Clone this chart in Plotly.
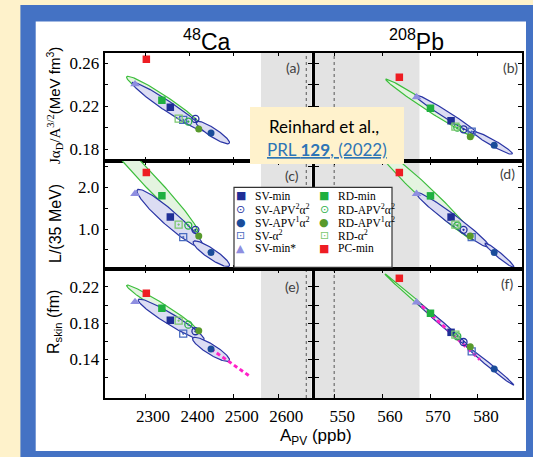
import numpy as np
import plotly.graph_objects as go

W, H = 533, 457

# ---------------- data ----------------
MODEL_LABELS = ["SV-min", "SV-APV<sup>2</sup>α<sup>2</sup>", "SV-APV<sup>1</sup>α<sup>2</sup>",
                "SV-α<sup>2</sup>", "SV-min*", "RD-min", "RD-APV<sup>2</sup>α<sup>2</sup>",
                "RD-APV<sup>1</sup>α<sup>2</sup>", "RD-α<sup>2</sup>", "PC-min"]

# A_PV (ppb)
APV_CA = [2357, 2413.5, 2448.6, 2386, 2277.5, 2338, 2397.5, 2421, 2375.7, 2303]
APV_PB = [574.4, 577.0, 583.4, 578.7, 567.2, 570.1, 575.7, 578.4, 575.3, 563.6]
# J alpha_D / A^{3/2}
AD_CA = [0.2191, 0.2082, 0.1952, 0.2073, 0.2405, 0.2256, 0.2057, 0.1989, 0.2085, 0.2637]
AD_PB = [0.2066, 0.1986, 0.1837, 0.1964, 0.2284, 0.2181, 0.2001, 0.1917, 0.2010, 0.2470]
# L / (35 MeV)
L_NORM = [1.29, 0.983, 0.437, 0.81, 1.85, 1.80, 1.087, 0.835, 1.11, 2.36]
# R_skin (fm)
RSKIN_CA = [0.1831, 0.1710, 0.1513, 0.1683, 0.2034, 0.1964, 0.1783, 0.1716, 0.1827, 0.2130]
RSKIN_PB = [0.1698, 0.1591, 0.1292, 0.1488, 0.2030, 0.1909, 0.1654, 0.1539, 0.1672, 0.2296]

# error ellipses: (family, tip1, tip2, semi-minor in px)
ELL_A = [("RD", (2258.8, 0.2475), (2425.4, 0.2017), 5.5),
         ("SV", (2271.4, 0.2420), (2432.9, 0.1973), 5.0),
         ("SV", (2414.9, 0.2057), (2489.9, 0.1856), 4.3)]
ELL_B = [("RD", (560.8, 0.2451), (579.2, 0.1917), 3.5),
         ("SV", (566.9, 0.2305), (580.1, 0.1933), 3.5),
         ("SV", (579.0, 0.1964), (587.2, 0.1756), 3.0)]
ELL_C = [("RD", (2193.0, 3.50), (2417.8, 0.942), 7.0),
         ("SV", (2282.7, 1.945), (2430.0, 0.567), 7.5),
         ("SV", (2408.8, 0.702), (2489.9, 0.118), 5.0)]
ELL_D = [("RD", (558.75, 2.986), (579.4, 0.738), 7.0),
         ("SV", (567.1, 1.88), (582.4, 0.567), 5.0),
         ("SV", (581.5, 0.66), (587.5, 0.086), 2.5)]
ELL_E = [("RD", (2258.8, 0.2219), (2416.4, 0.1727), 4.0),
         ("SV", (2285.0, 0.2060), (2432.9, 0.1616), 5.5),
         ("SV", (2407.4, 0.1635), (2489.9, 0.1384), 5.0)]
ELL_F = [("RD", (560.6, 0.2344), (576.6, 0.1605), 1.5),
         ("SV", (567.1, 0.2042), (578.7, 0.1506), 2.0),
         ("SV", (577.6, 0.1543), (587.5, 0.1111), 1.8)]

# linear correlation lines (dashed magenta)
LINE_E_X = [2448.6, 2536.5]
LINE_E_Y = [0.1513, 0.121]
LINE_F_X = [567.2, 580.4]
LINE_F_Y = [0.2042, 0.1395]

# tick labels
XT_CA = [2300, 2400, 2500, 2600]
XT_PB = [550, 560, 570, 580]
YT_AD = [0.18, 0.20, 0.22, 0.24, 0.26]
YL_AD = ["0.18", "", "0.22", "", "0.26"]
YT_L = [0.5, 1.0, 1.5, 2.0, 2.5]
YL_L = ["", "1.0", "", "2.0", ""]
YT_R = [0.12, 0.14, 0.16, 0.18, 0.20, 0.22]
YL_R = ["", "0.14", "", "0.18", "", "0.22"]

# ---------------- styles ----------------
SYMBOLS = ["square", "circle-open-dot", "circle", "square-open-dot", "triangle-up",
           "square", "circle-open-dot", "circle", "square-open-dot", "square"]
COLORS = ["#1F2E96", "#2432A0", "#1A4C9A", "#4A6CC0", "#8E8EE0",
          "#1FB040", "#2EB04A", "#589A2C", "#7CC86E", "#EE1D23"]
SIZES = [7.5, 7, 7, 7, 8.5, 7.5, 7, 7, 7, 7.5]
GLYPHS = {"square": "■", "circle-open-dot": "⊙", "circle": "●",
          "square-open-dot": "⊡", "triangle-up": "▲"}

XR = {0: [2208.8, 2674.8], 1: [546.0, 589.2]}
YR = {0: [0.1691, 0.2700], 1: [0.043, 2.637], 2: [0.0971, 0.2399]}

# pixel geometry
COLX = [(104.5, 311.5), (315.0, 522.0)]
ROWY = [(52.5, 161.0), (161.0, 269.0), (269.0, 398.0)]

def xd(px0, px1):
    return [px0 / W, px1 / W]

def yd(py0, py1):
    return [1 - py1 / H, 1 - py0 / H]

fig = go.Figure()

panels = {
    (0, 0): (APV_CA, AD_CA, ELL_A, None),
    (0, 1): (APV_PB, AD_PB, ELL_B, None),
    (1, 0): (APV_CA, L_NORM, ELL_C, None),
    (1, 1): (APV_PB, L_NORM, ELL_D, None),
    (2, 0): (APV_CA, RSKIN_CA, ELL_E, (LINE_E_X, LINE_E_Y)),
    (2, 1): (APV_PB, RSKIN_PB, ELL_F, (LINE_F_X, LINE_F_Y)),
}

ELL_LINE = {"RD": "#3DBE3D", "SV": "#2A35A5"}
ELL_FILL = {"RD": "#E4F4E0", "SV": "#DCDDF3"}


def ellipse(tip1, tip2, semi_px, r, c):
    wpx = COLX[c][1] - COLX[c][0]
    hpx = ROWY[r][1] - ROWY[r][0]
    sx = wpx / (XR[c][1] - XR[c][0])
    sy = hpx / (YR[r][1] - YR[r][0])
    ax, ay = tip1[0] * sx, tip1[1] * sy
    bx, by = tip2[0] * sx, tip2[1] * sy
    cx, cy = (ax + bx) / 2, (ay + by) / 2
    a = np.hypot(bx - ax, by - ay) / 2
    th = np.arctan2(by - ay, bx - ax)
    t = np.linspace(0, 2 * np.pi, 160)
    px = cx + a * np.cos(t) * np.cos(th) - semi_px * np.sin(t) * np.sin(th)
    py = cy + a * np.cos(t) * np.sin(th) + semi_px * np.sin(t) * np.cos(th)
    return px / sx, py / sy


layout_axes = {}
shapes = []

# frame
shapes.append(dict(type="rect", xref="paper", yref="paper", x0=20.4 / W, x1=1.01,
                   y0=-0.01, y1=1 - 5 / H, fillcolor="#4472C4", line=dict(width=0), layer="below"))
shapes.append(dict(type="rect", xref="paper", yref="paper", x0=35.7 / W, x1=526 / W,
                   y0=1 - 451 / H, y1=1 - 21.4 / H, fillcolor="white", line=dict(width=0), layer="below"))

SERIF = "Times New Roman, Liberation Serif, serif"

for (r, c), (xs, ys, ells, line) in panels.items():
    k = r * 2 + c + 1
    xa = "x" if k == 1 else f"x{k}"
    ya = "y" if k == 1 else f"y{k}"
    for fam, t1, t2, b in ells:
        ex, ey = ellipse(t1, t2, b, r, c)
        fig.add_trace(go.Scatter(x=ex, y=ey, mode="lines", fill="toself",
                                 fillcolor=ELL_FILL[fam],
                                 line=dict(color=ELL_LINE[fam], width=1.2),
                                 xaxis=xa, yaxis=ya, showlegend=False, hoverinfo="skip"))
    if line is not None:
        fig.add_trace(go.Scatter(x=line[0], y=line[1], mode="lines",
                                 line=dict(color="#FF22C8", width=3, dash="4px,3px"),
                                 xaxis=xa, yaxis=ya, showlegend=False, hoverinfo="skip"))
    for i in range(len(MODEL_LABELS)):
        open_m = "open" in SYMBOLS[i]
        fig.add_trace(go.Scatter(
            x=[xs[i]], y=[ys[i]], mode="markers",
            marker=dict(symbol=SYMBOLS[i], size=SIZES[i], color=COLORS[i],
                        line=dict(color=COLORS[i], width=1.3 if open_m else 0)),
            xaxis=xa, yaxis=ya, showlegend=False, name=MODEL_LABELS[i]))

    tickfont = dict(family=SERIF, size=17, color="black")
    xkey = "xaxis" if k == 1 else f"xaxis{k}"
    ykey = "yaxis" if k == 1 else f"yaxis{k}"
    xt = XT_CA if c == 0 else XT_PB
    layout_axes[xkey] = dict(
        domain=xd(*COLX[c]), range=XR[c], anchor=ya, showgrid=False, zeroline=False,
        showline=True, linecolor="black", linewidth=1.6, mirror="ticks",
        ticks="inside", ticklen=4, tickwidth=1, tickcolor="black",
        tickvals=xt, ticktext=[str(v) for v in xt], showticklabels=(r == 2),
        tickfont=tickfont, ticklabelshift=8, ticklabelstandoff=2)
    yt, yl = [(YT_AD, YL_AD), (YT_L, YL_L), (YT_R, YL_R)][r]
    layout_axes[ykey] = dict(
        domain=yd(*ROWY[r]), range=YR[r], anchor=xa, showgrid=False, zeroline=False,
        showline=True, linecolor="black", linewidth=1.6, mirror="ticks",
        ticks="inside", ticklen=4, tickwidth=1, tickcolor="black",
        tickvals=yt, ticktext=yl, showticklabels=(c == 0), tickfont=tickfont)

    # shaded excluded region + dotted line
    if c == 0:
        shapes.append(dict(type="rect", xref=xa, yref=f"{ya} domain", x0=2561, x1=2700,
                           y0=0, y1=1, fillcolor="#E3E3E3", line=dict(width=0), layer="below"))
        shapes.append(dict(type="line", xref=xa, yref=f"{ya} domain", x0=2663, x1=2663,
                           y0=0, y1=1, line=dict(color="#555555", width=1, dash="dot"), layer="below"))
    else:
        shapes.append(dict(type="rect", xref=xa, yref=f"{ya} domain", x0=540, x1=567.8,
                           y0=0, y1=1, fillcolor="#E3E3E3", line=dict(width=0), layer="below"))
        shapes.append(dict(type="line", xref=xa, yref=f"{ya} domain", x0=550, x1=550,
                           y0=0, y1=1, line=dict(color="#555555", width=1, dash="dot"), layer="below"))

# legend box and Reinhard box (above data)
shapes.append(dict(type="rect", xref="paper", yref="paper", x0=234 / W, x1=392 / W,
                   y0=1 - 267.3 / H, y1=1 - 187.3 / H, fillcolor="white",
                   line=dict(color="#333333", width=1.2), layer="above"))
shapes.append(dict(type="rect", xref="paper", yref="paper", x0=250 / W, x1=404 / W,
                   y0=1 - 164 / H, y1=1 - 107 / H, fillcolor="#FFF2CC",
                   line=dict(width=0), layer="above"))

ann = []

def A(px, py, text, size, family="Liberation Sans", color="black",
      xanchor="center", yanchor="middle", angle=0):
    ann.append(dict(x=px / W, y=1 - py / H, xref="paper", yref="paper", text=text,
                    showarrow=False, xanchor=xanchor, yanchor=yanchor, textangle=angle,
                    font=dict(size=size, family=family, color=color)))

# column titles
A(207, 40, "<sup>48</sup>Ca", 23)
A(416, 40, "<sup>208</sup>Pb", 23)
# panel labels
for lab, px, py in [("(a)", 292.5, 67), ("(b)", 510, 67), ("(c)", 292, 175),
                    ("(d)", 507.5, 173.5), ("(e)", 292, 286), ("(f)", 507, 283.5)]:
    A(px, py, lab, 14, family="Lato", color="#404040")
# y axis titles
A(54, 106, '<span style="font-family:Liberation Serif">Jα<sub>D</sub>/A<sup>3/2</sup></span>(MeV fm<sup>3</sup>)',
  15, angle=-90)
A(56, 224, "L/(35 MeV)", 16, angle=-90)
A(54, 322, "R<sub>skin</sub> (fm)", 16, angle=-90)
# x axis title
A(316, 437, "A<sub>PV</sub> (ppb)", 17)
# reference box text
A(324, 126.5, "Reinhard et al.,", 17, family="Lato")
A(327, 150, '<u>PRL <b>129</b>, (2022)</u>', 17, family="Lato", color="#2E75B6")

# legend rows
LEG_ROWS_Y = [196, 209.3, 222.3, 235.3, 248]
LEG_COL_MX = [240.7, 324]
LEG_COL_TX = [252.7, 336]
for i, lab in enumerate(MODEL_LABELS):
    col, row = divmod(i, 5)
    py = LEG_ROWS_Y[row]
    A(LEG_COL_MX[col], py, GLYPHS[SYMBOLS[i]], 11, family="DejaVu Sans", color=COLORS[i])
    A(LEG_COL_TX[col], py, lab, 11.5, family=SERIF, xanchor="left")

fig.update_layout(
    width=W, height=H, margin=dict(l=0, r=0, t=0, b=0, pad=0),
    paper_bgcolor="#FEF2CB", plot_bgcolor="rgba(0,0,0,0)",
    showlegend=False, shapes=shapes, annotations=ann, **layout_axes)

fig.write_html("out.html", include_plotlyjs=True, config={"displayModeBar": False},
               post_script="document.body.style.margin='0';document.body.style.overflow='hidden';")
